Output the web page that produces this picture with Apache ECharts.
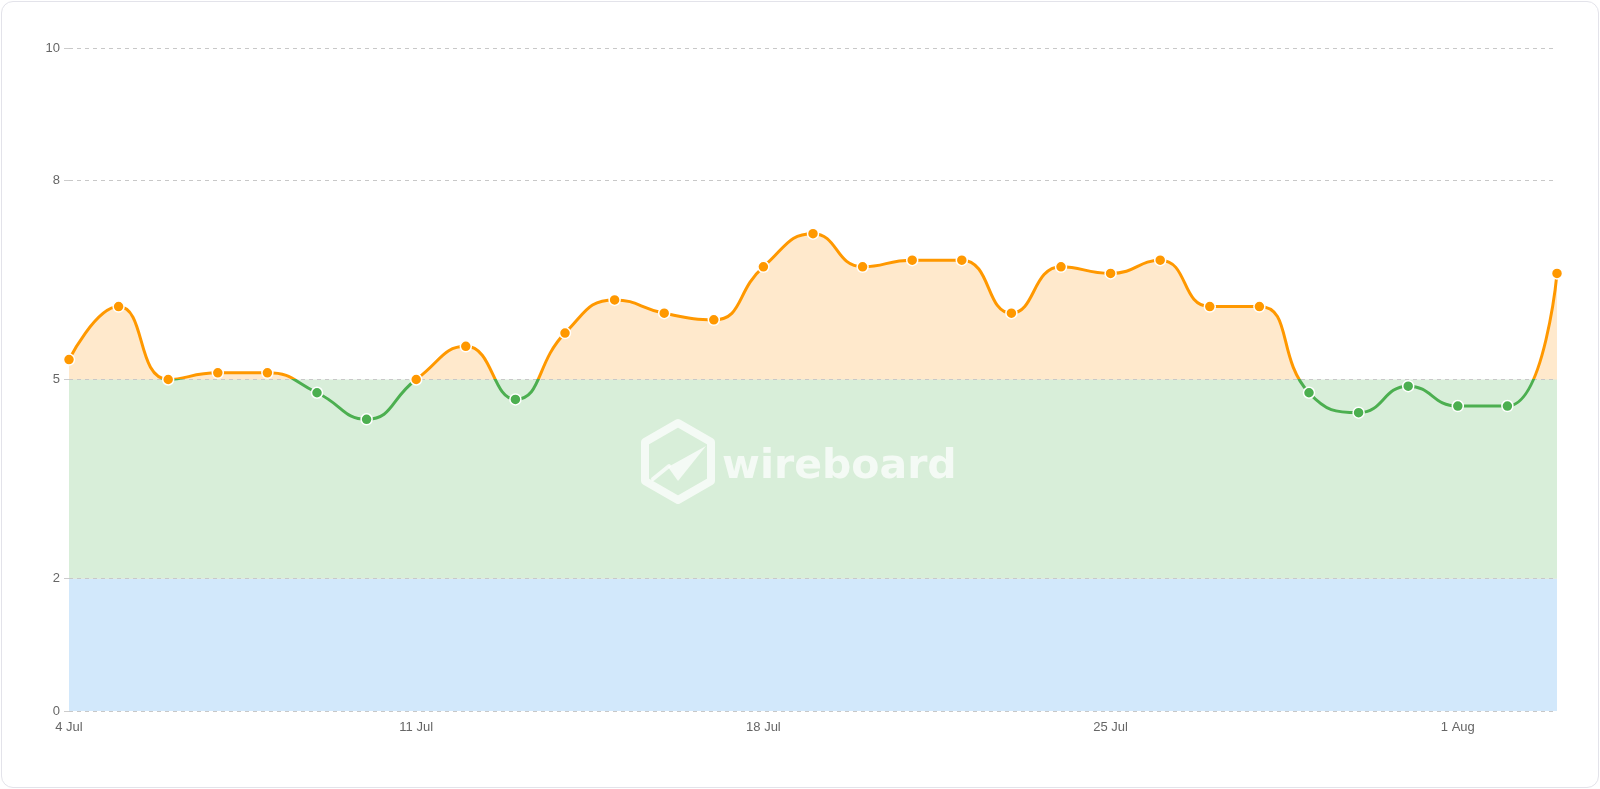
<!DOCTYPE html>
<html>
<head>
<meta charset="utf-8">
<script src="https://cdn.jsdelivr.net/npm/echarts@6/dist/echarts.min.js"></script>
<style>
  html, body { margin:0; padding:0; background:#ffffff; width:1600px; height:789px; overflow:hidden; }
  #card { position:absolute; left:1px; top:1px; width:1596px; height:785px; border:1px solid #e3e3ea; border-radius:12px; background:#fff; }
  #chart { position:absolute; left:0; top:0; width:1600px; height:789px; }
</style>
</head>
<body>
<div id="card"></div>
<div id="chart"></div>
<script>
const categories = ['4 Jul','5 Jul','6 Jul','7 Jul','8 Jul','9 Jul','10 Jul','11 Jul','12 Jul','13 Jul','14 Jul','15 Jul','16 Jul','17 Jul','18 Jul','19 Jul','20 Jul','21 Jul','22 Jul','23 Jul','24 Jul','25 Jul','26 Jul','27 Jul','28 Jul','29 Jul','30 Jul','31 Jul','1 Aug','2 Aug','3 Aug'];
const values = [5.3,6.1,5.0,5.1,5.1,4.8,4.4,5.0,5.5,4.7,5.7,6.2,6.0,5.9,6.7,7.2,6.7,6.8,6.8,6.0,6.7,6.6,6.8,6.1,6.1,4.8,4.5,4.9,4.6,4.6,6.6];
const yTicks = [0,2,5,8,10];
const threshold = 5;
const lowBand = [0,2];
const midBand = [2,5];

const ORANGE = '#ff9800', GREEN = '#4caf50';
const FONT = '"Liberation Sans", Arial, sans-serif';
const chart = echarts.init(document.getElementById('chart'), null, {renderer:'canvas'});

const wm = 'rgba(255,255,255,0.72)';
const option = {
  animation:false,
  backgroundColor:'transparent',
  grid:{ left:69, right:43, top:48, bottom:78, containLabel:false },
  xAxis:{
    type:'category', data:categories, boundaryGap:false,
    axisLine:{show:false}, axisTick:{show:false}, splitLine:{show:false},
    axisLabel:{ interval:6, color:'#666', fontSize:13, fontFamily:FONT, margin:10 }
  },
  yAxis:{
    type:'value', min:0, max:10,
    axisLine:{show:false},
    axisTick:{show:true, customValues:yTicks, length:5, lineStyle:{color:'#cccccc'}},
    splitLine:{show:false},
    axisLabel:{ customValues:yTicks, color:'#666', fontSize:13, fontFamily:FONT, margin:9 }
  },
  series:[
    { // orange fill under line
      type:'line', data:values, smooth:true, symbol:'none', z:0, silent:true,
      lineStyle:{width:0, opacity:0}, itemStyle:{color:'#ffe9cc'},
      areaStyle:{color:'#ffe9cc', opacity:1}
    },
    { // bands
      type:'line', data:values, smooth:true, symbol:'none', z:1, silent:true,
      lineStyle:{width:0, opacity:0},
      markArea:{ silent:true, z:2,
        data:[
          [{yAxis:lowBand[0], itemStyle:{color:'#d2e8fb'}},{yAxis:lowBand[1]}],
          [{yAxis:midBand[0], itemStyle:{color:'#d8eed9'}},{yAxis:midBand[1]}]
        ]
      },
      markLine:{ silent:true, z:3, symbol:['none','none'], label:{show:false},
        lineStyle:{type:[4,4], color:'#c8c8c8', width:1},
        data: yTicks.map(v => ({yAxis:v}))
      }
    },
    { // main line
      type:'line', data:values, smooth:true, z:6,
      symbol:'circle', symbolSize:11, showSymbol:true,
      lineStyle:{width:3, color:ORANGE},
      itemStyle:{
        color: p => (p.value >= threshold ? ORANGE : GREEN),
        borderColor:'#fff', borderWidth:1.5
      }
    }
  ],
  graphic:[
    { type:'polygon', z:100, silent:true,
      shape:{ points:[[678,423],[711,442],[711,481],[678,500],[645,481],[645,442]] },
      style:{ fill:'none', stroke:wm, lineWidth:8, lineJoin:'round' } },
    { type:'polygon', z:100, silent:true,
      shape:{ points:[[668,467],[706,446],[678,481]] },
      style:{ fill:wm } },
    { type:'polyline', z:100, silent:true,
      shape:{ points:[[653,479],[669,466]] },
      style:{ stroke:wm, lineWidth:4, lineCap:'round' } },
    { type:'text', z:100, silent:true,
      style:{ x:722, y:488, verticalAlign:'bottom', text:'wireboard', fill:wm, font:'bold 41px "DejaVu Sans", sans-serif' } }
  ]
};
chart.setOption(option);

// colour the line by threshold using a gradient placed at the axis position of the threshold
const yT = chart.convertToPixel({yAxisIndex:0}, threshold);
const H = 789;
const off = yT / H;
chart.setOption({
  series:[{}, {}, {
    lineStyle:{
      color:{ type:'linear', global:true, x:0, y:0, x2:0, y2:H,
        colorStops:[
          {offset:0, color:ORANGE},{offset:off, color:ORANGE},
          {offset:off, color:GREEN},{offset:1, color:GREEN}
        ] }
    }
  }]
});
</script>
</body>
</html>
